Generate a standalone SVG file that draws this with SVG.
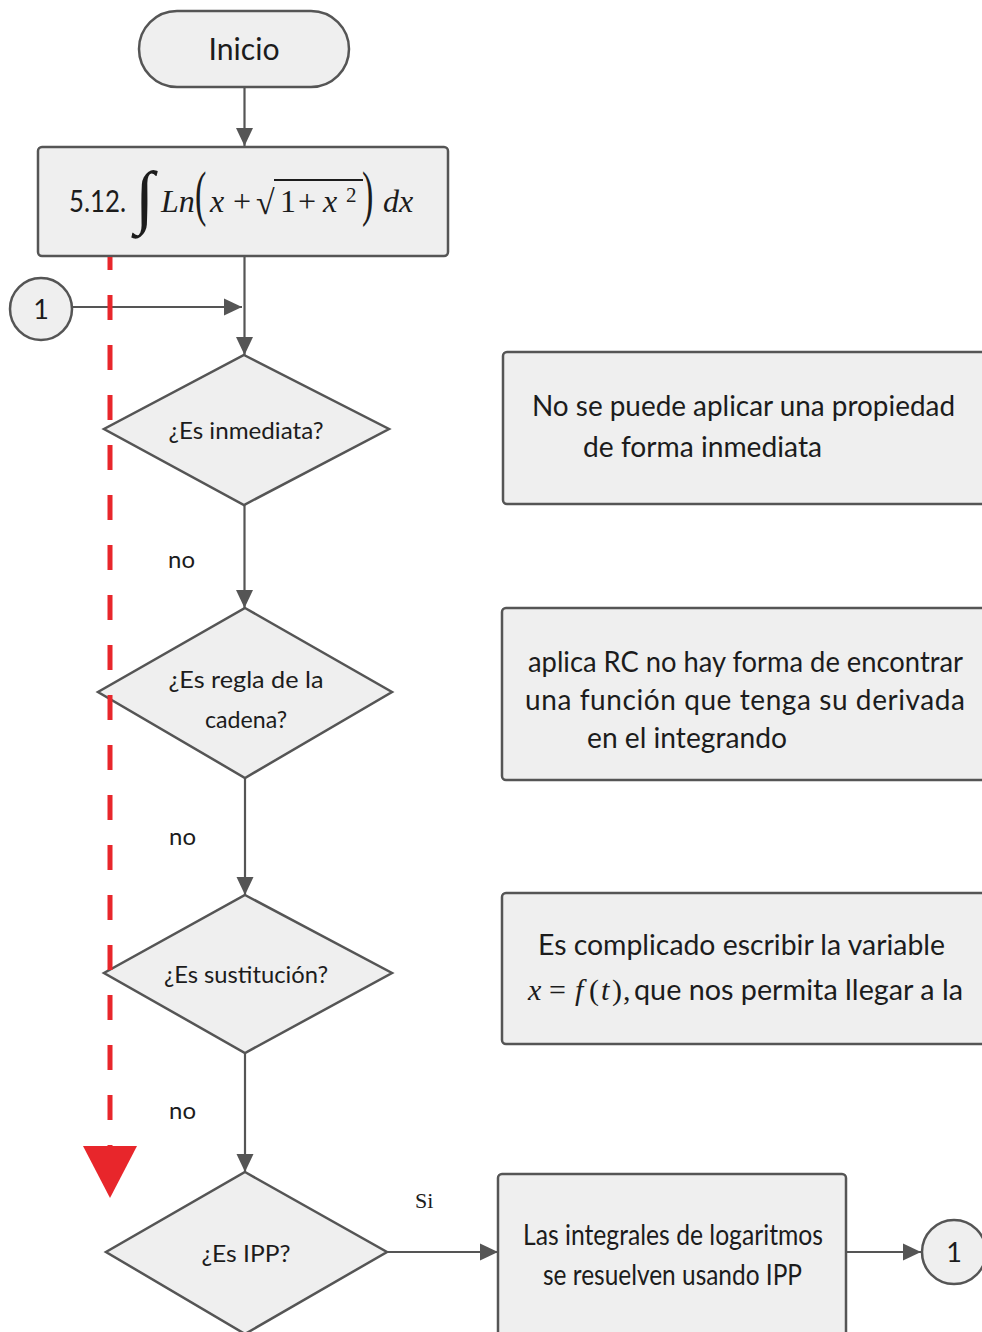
<svg xmlns="http://www.w3.org/2000/svg" width="982" height="1332" viewBox="0 0 982 1332">
<defs>
<style>
.node{fill:#efefef;stroke:#555;stroke-width:2.5}
.edge{stroke:#555;stroke-width:2.2;fill:none}
.t{font-family:Lato,"Liberation Sans",sans-serif;fill:#1c1c1c}
.m{font-family:"Liberation Serif","DejaVu Serif",serif;fill:#1c1c1c}
.mi{font-style:italic}
.red{stroke:#e8262b;stroke-width:5;stroke-dasharray:25 25;fill:none}
</style>
<marker id="ah" markerUnits="userSpaceOnUse" markerWidth="18" markerHeight="18" refX="18" refY="9" orient="auto">
<path d="M0,0.5 L18,9 L0,17.5 z" fill="#555"/>
</marker>
</defs>
<rect width="982" height="1332" fill="#ffffff"/>

<g id="connectors">
<line class="edge" x1="244.5" y1="87" x2="244.5" y2="146" marker-end="url(#ah)"/>
<line class="edge" x1="244.5" y1="256" x2="244.5" y2="355" marker-end="url(#ah)"/>
<line class="edge" x1="72" y1="307" x2="242" y2="307" marker-end="url(#ah)"/>
<line class="edge" x1="244.5" y1="505" x2="244.5" y2="608" marker-end="url(#ah)"/>
<line class="edge" x1="245" y1="778" x2="245" y2="895" marker-end="url(#ah)"/>
<line class="edge" x1="245" y1="1053" x2="245" y2="1172" marker-end="url(#ah)"/>
<line class="edge" x1="387" y1="1252" x2="498" y2="1252" marker-end="url(#ah)"/>
<line class="edge" x1="846" y1="1252" x2="921" y2="1252" marker-end="url(#ah)"/>
<text class="t" x="168" y="568" font-size="24" textLength="27" lengthAdjust="spacingAndGlyphs">no</text>
<text class="t" x="169" y="845" font-size="24" textLength="27" lengthAdjust="spacingAndGlyphs">no</text>
<text class="t" x="169" y="1119" font-size="24" textLength="27" lengthAdjust="spacingAndGlyphs">no</text>
<text class="m" x="415" y="1208" font-size="22">Si</text>
</g>

<g id="start">
<rect class="node" x="139" y="11" width="210" height="76" rx="38" ry="38"/>
<text class="t" x="244" y="60" font-size="31" text-anchor="middle" textLength="71" lengthAdjust="spacingAndGlyphs">Inicio</text>
</g>

<g id="problem">
<rect class="node" x="38" y="147" width="410" height="109" rx="4"/>
<text class="t" x="69" y="212" font-size="31" textLength="57" lengthAdjust="spacingAndGlyphs">5.12.</text>
<text class="m" x="135" y="220" font-size="70">∫</text>
<text class="m mi" x="161" y="212" font-size="32">Ln</text>
<text class="m" x="195" y="214" font-size="62" transform="translate(195 214) scale(0.55 1) translate(-195 -214)">(</text>
<text class="m mi" x="210" y="212" font-size="32">x</text>
<text class="m" x="233" y="212" font-size="32">+</text>
<text class="m" x="256" y="214" font-size="34">√</text>
<line x1="274" y1="180" x2="363" y2="180" stroke="#1c1c1c" stroke-width="1.8"/>
<text class="m" x="280" y="212" font-size="32">1</text>
<text class="m" x="298" y="212" font-size="32">+</text>
<text class="m mi" x="323" y="212" font-size="32">x</text>
<text class="m" x="346" y="202" font-size="21">2</text>
<text class="m" x="362" y="214" font-size="62" transform="translate(362 214) scale(0.55 1) translate(-362 -214)">)</text>
<text class="m mi" x="383" y="212" font-size="32">dx</text>
</g>

<g id="connector-in">
<circle class="node" cx="41" cy="309" r="31"/>
<text class="t" x="41" y="319" font-size="27" text-anchor="middle">1</text>
</g>

<g id="d1">
<polygon class="node" points="244,355 389,429 244,505 104,429"/>
<text class="t" x="246" y="439" font-size="24" text-anchor="middle" textLength="155" lengthAdjust="spacingAndGlyphs">¿Es inmediata?</text>
</g>

<g id="d2">
<polygon class="node" points="245,608 392,692 245,778 98,692"/>
<text class="t" x="246" y="688" font-size="24" text-anchor="middle" textLength="155" lengthAdjust="spacingAndGlyphs">¿Es regla de la</text>
<text class="t" x="246" y="728" font-size="24" text-anchor="middle" textLength="82" lengthAdjust="spacingAndGlyphs">cadena?</text>
</g>

<g id="d3">
<polygon class="node" points="245,895 392,973 245,1053 104,973"/>
<text class="t" x="246" y="983" font-size="24" text-anchor="middle" textLength="164" lengthAdjust="spacingAndGlyphs">¿Es sustitución?</text>
</g>

<g id="d4">
<polygon class="node" points="245,1172 387,1252 245,1334 106,1252"/>
<text class="t" x="246" y="1262" font-size="24" text-anchor="middle" textLength="89" lengthAdjust="spacingAndGlyphs">¿Es IPP?</text>
</g>

<g id="note1">
<rect class="node" x="503" y="352" width="490" height="152" rx="4"/>
<text class="t" x="532" y="416" font-size="28" textLength="423" lengthAdjust="spacingAndGlyphs">No se puede aplicar una propiedad</text>
<text class="t" x="583" y="457" font-size="28" textLength="239" lengthAdjust="spacingAndGlyphs">de forma inmediata</text>
</g>

<g id="note2">
<rect class="node" x="502" y="608" width="490" height="172" rx="4"/>
<text class="t" x="528" y="672" font-size="28" textLength="435" lengthAdjust="spacingAndGlyphs">aplica RC no hay forma de encontrar</text>
<text class="t" x="525" y="710" font-size="28" textLength="440" lengthAdjust="spacing">una función que tenga su derivada</text>
<text class="t" x="587" y="748" font-size="28" textLength="200" lengthAdjust="spacingAndGlyphs">en el integrando</text>
</g>

<g id="note3">
<rect class="node" x="502" y="893" width="490" height="151" rx="4"/>
<text class="t" x="538" y="955" font-size="28" textLength="407" lengthAdjust="spacingAndGlyphs">Es complicado escribir la variable</text>
<text class="m" y="1000" font-size="30"><tspan class="mi" x="528">x</tspan><tspan x="549">=</tspan><tspan class="mi" x="575">f</tspan><tspan x="589">(</tspan><tspan class="mi" x="601">t</tspan><tspan x="612">)</tspan><tspan x="623">,</tspan></text>
<text class="t" x="634" y="1000" font-size="28" textLength="329" lengthAdjust="spacingAndGlyphs">que nos permita llegar a la</text>
</g>

<g id="ipp">
<rect class="node" x="498" y="1174" width="348" height="170" rx="4"/>
<text class="t" x="523" y="1245" font-size="28" textLength="300" lengthAdjust="spacingAndGlyphs">Las integrales de logaritmos</text>
<text class="t" x="543" y="1285" font-size="28" textLength="259" lengthAdjust="spacingAndGlyphs">se resuelven usando IPP</text>
</g>

<g id="connector-out">
<circle class="node" cx="954" cy="1252" r="32"/>
<text class="t" x="954" y="1262" font-size="27" text-anchor="middle">1</text>
</g>

<g id="red-arrow">
<line class="red" x1="110" y1="257" x2="110" y2="1146" stroke-dashoffset="12"/>
<polygon points="83,1146 137,1146 110,1198" fill="#e8262b"/>
</g>
</svg>
